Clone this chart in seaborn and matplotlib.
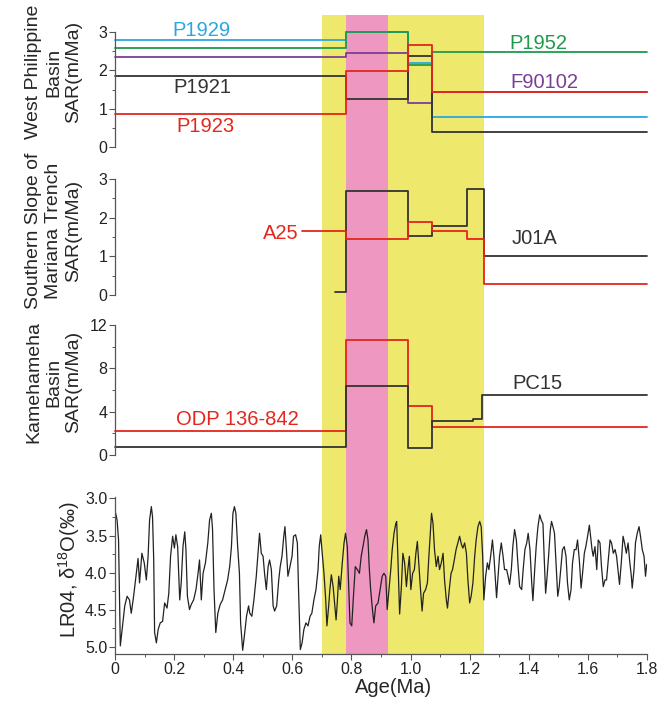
import matplotlib
matplotlib.use("Agg")
import matplotlib.pyplot as plt
import seaborn as sns
from matplotlib.ticker import MultipleLocator, FormatStrFormatter

sns.set_style("ticks")
plt.rcParams['font.family'] = ['Liberation Sans', 'DejaVu Sans']
plt.rcParams['mathtext.fontset'] = 'custom'
plt.rcParams['mathtext.rm'] = 'Liberation Sans'
plt.rcParams['mathtext.it'] = 'Liberation Sans:italic'
plt.rcParams['mathtext.bf'] = 'Liberation Sans:bold'

# ---------------- data ----------------
mpt_band = (0.70, 1.25)
mbt_band = (0.78, 0.925)

# West Philippine Basin (step breakpoints, Ma / SAR m/Ma)
wpb_x = [0.0, 0.78, 0.99, 1.073, 1.8]
p1929 = [2.79, 3.00, 2.18, 0.79, 0.79]
p1952 = [2.59, 3.00, 2.14, 2.47, 2.47]
f90102 = [2.35, 2.45, 1.16, 1.43, 1.43]
p1921 = [1.85, 1.25, 2.38, 0.38, 0.38]
p1923 = [0.87, 1.98, 2.67, 1.43, 1.43]

# Southern slope of Mariana Trench
j01a_x = [0.744, 0.78, 0.99, 1.073, 1.19, 1.247, 1.8]
j01a = [0.09, 2.70, 1.52, 1.78, 2.73, 1.02, 1.02]
a25_x = [0.632, 0.78, 0.99, 1.073, 1.19, 1.247, 1.8]
a25 = [1.65, 1.45, 1.89, 1.66, 1.45, 0.28, 0.28]

# Kamehameha Basin
odp_x = [0.0, 0.78, 0.99, 1.073, 1.8]
odp842 = [2.2, 10.65, 4.55, 2.55, 2.55]
pc15_x = [0.0, 0.78, 0.99, 1.073, 1.212, 1.243, 1.8]
pc15 = [0.74, 6.34, 0.68, 3.10, 3.32, 5.54, 5.54]

# LR04 benthic d18O stack
lr04_age = [
    0.000, 0.007, 0.012, 0.018, 0.024, 0.033, 0.041, 0.049, 0.055, 0.063, 0.071, 0.078, 0.083, 0.091,
    0.099, 0.106, 0.112, 0.117, 0.123, 0.127, 0.131, 0.134, 0.140, 0.146, 0.153, 0.161, 0.168, 0.176,
    0.182, 0.188, 0.195, 0.201, 0.206, 0.212, 0.219, 0.224, 0.230, 0.236, 0.240, 0.245, 0.252, 0.258,
    0.266, 0.274, 0.281, 0.286, 0.292, 0.298, 0.306, 0.314, 0.320, 0.326, 0.330, 0.335, 0.341, 0.348,
    0.356, 0.364, 0.373, 0.381, 0.388, 0.394, 0.399, 0.404, 0.409, 0.415, 0.421, 0.425, 0.432, 0.439,
    0.445, 0.452, 0.456, 0.463, 0.470, 0.478, 0.484, 0.489, 0.495, 0.501, 0.506, 0.512, 0.518, 0.523,
    0.529, 0.535, 0.540, 0.547, 0.554, 0.559, 0.565, 0.571, 0.575, 0.580, 0.585, 0.592, 0.599, 0.604,
    0.611, 0.617, 0.621, 0.627, 0.633, 0.639, 0.646, 0.653, 0.660, 0.666, 0.673, 0.680, 0.687, 0.691,
    0.696, 0.700, 0.707, 0.713, 0.717, 0.723, 0.727, 0.732, 0.738, 0.742, 0.748, 0.752, 0.757, 0.762,
    0.769, 0.775, 0.780, 0.786, 0.791, 0.795, 0.801, 0.806, 0.813, 0.820, 0.827, 0.833, 0.839, 0.845,
    0.851, 0.856, 0.860, 0.865, 0.871, 0.876, 0.882, 0.890, 0.897, 0.904, 0.910, 0.916, 0.921, 0.927,
    0.933, 0.938, 0.944, 0.950, 0.953, 0.957, 0.963, 0.969, 0.974, 0.980, 0.986, 0.991, 0.996, 1.001,
    1.007, 1.013, 1.018, 1.023, 1.027, 1.033, 1.039, 1.044, 1.051, 1.057, 1.062, 1.068, 1.071, 1.076,
    1.081, 1.087, 1.093, 1.098, 1.104, 1.110, 1.115, 1.121, 1.125, 1.131, 1.137, 1.142, 1.148, 1.154,
    1.160, 1.166, 1.172, 1.177, 1.183, 1.189, 1.194, 1.200, 1.205, 1.211, 1.217, 1.222, 1.228, 1.234,
    1.239, 1.244, 1.248, 1.254, 1.260, 1.265, 1.271, 1.277, 1.282, 1.288, 1.291, 1.296, 1.301, 1.307,
    1.313, 1.318, 1.325, 1.330, 1.335, 1.341, 1.346, 1.352, 1.358, 1.363, 1.369, 1.376, 1.381, 1.387,
    1.393, 1.398, 1.404, 1.410, 1.414, 1.420, 1.425, 1.431, 1.437, 1.442, 1.448, 1.452, 1.457, 1.461,
    1.467, 1.473, 1.477, 1.483, 1.487, 1.492, 1.498, 1.503, 1.509, 1.514, 1.520, 1.526, 1.531, 1.537,
    1.543, 1.548, 1.554, 1.560, 1.565, 1.571, 1.577, 1.582, 1.588, 1.593, 1.599, 1.605, 1.609, 1.614,
    1.618, 1.624, 1.630, 1.635, 1.641, 1.646, 1.652, 1.658, 1.663, 1.669, 1.675, 1.680, 1.686, 1.692,
    1.697, 1.703, 1.707, 1.713, 1.719, 1.724, 1.730, 1.736, 1.741, 1.747, 1.750, 1.756, 1.761, 1.767,
    1.773, 1.778, 1.784, 1.790, 1.795, 1.799]
lr04_d18o = [
    3.16, 3.29, 3.56, 4.99, 4.77, 4.45, 4.32, 4.37, 4.55, 4.32, 4.05, 3.81, 4.14, 3.74,
    3.87, 4.10, 3.78, 3.29, 3.11, 3.25, 3.83, 4.81, 4.95, 4.77, 4.68, 4.66, 4.41, 4.48,
    4.28, 3.78, 3.51, 3.67, 3.49, 3.65, 4.37, 4.14, 3.65, 3.45, 3.69, 4.32, 4.50, 4.43,
    4.37, 4.23, 4.01, 3.83, 4.37, 4.01, 3.87, 3.60, 3.29, 3.20, 3.42, 4.23, 4.81, 4.55,
    4.43, 4.37, 4.23, 4.10, 3.92, 3.65, 3.20, 3.11, 3.20, 3.65, 4.01, 4.68, 5.05, 4.81,
    4.59, 4.45, 4.55, 4.59, 4.37, 4.05, 3.74, 3.47, 3.74, 3.78, 4.01, 4.23, 3.92, 3.83,
    3.96, 4.45, 4.52, 4.45, 4.10, 3.92, 3.78, 3.51, 3.38, 3.69, 4.05, 3.92, 3.78, 3.51,
    3.49, 3.60, 4.23, 5.04, 4.95, 4.77, 4.68, 4.72, 4.59, 4.55, 4.37, 4.23, 3.96, 3.65,
    3.49, 3.69, 4.01, 4.37, 4.72, 4.45, 4.23, 4.03, 4.19, 4.37, 4.64, 4.41, 4.05, 4.23,
    3.87, 3.60, 3.47, 3.65, 4.23, 4.68, 4.72, 4.37, 3.92, 3.96, 4.01, 3.78, 3.65, 3.51,
    3.42, 3.56, 3.92, 4.23, 4.50, 4.68, 4.45, 4.41, 4.23, 4.05, 4.01, 4.05, 4.50, 4.23,
    3.96, 3.69, 3.47, 3.34, 3.31, 3.78, 4.56, 4.19, 3.74, 3.87, 4.19, 3.96, 3.78, 4.23,
    4.01, 3.96, 3.74, 3.58, 3.83, 4.19, 4.52, 4.28, 4.23, 4.14, 3.78, 3.38, 3.20, 3.34,
    3.69, 3.92, 3.78, 3.96, 3.87, 3.74, 4.10, 4.37, 4.48, 4.23, 4.01, 3.96, 3.83, 3.69,
    3.60, 3.51, 3.62, 3.67, 3.60, 3.74, 4.10, 4.41, 4.32, 4.14, 3.78, 3.56, 3.38, 3.31,
    3.38, 3.78, 4.37, 4.05, 3.87, 3.96, 3.78, 3.56, 3.78, 4.14, 4.34, 4.05, 3.78, 3.60,
    3.78, 3.96, 3.96, 4.05, 4.16, 3.96, 3.65, 3.42, 3.56, 3.87, 4.19, 4.23, 3.96, 3.69,
    3.60, 3.47, 3.69, 4.14, 4.38, 3.96, 3.65, 3.38, 3.22, 3.29, 3.34, 3.78, 4.28, 4.10,
    3.78, 3.42, 3.31, 3.40, 3.47, 3.87, 4.32, 4.19, 3.92, 3.69, 3.65, 3.78, 4.14, 4.37,
    4.23, 3.87, 3.69, 3.69, 3.56, 3.83, 4.21, 4.01, 3.74, 3.65, 3.51, 3.36, 3.51, 3.69,
    3.78, 3.65, 3.96, 3.56, 3.60, 3.92, 4.19, 4.10, 4.10, 3.83, 3.56, 3.60, 3.74, 3.69,
    3.78, 4.01, 4.16, 3.87, 3.51, 3.60, 3.74, 3.60, 3.83, 4.05, 4.21, 3.96, 3.60, 3.47,
    3.38, 3.51, 3.69, 3.78, 4.05, 3.89]

xticks = [0, 0.2, 0.4, 0.6, 0.8, 1.0, 1.2, 1.4, 1.6, 1.8]
xtick_labels = ['0', '0.2', '0.4', '0.6', '0.8', '1.0', '1.2', '1.4', '1.6', '1.8']

# ---------------- style ----------------
CYAN = '#2aa7df'
GREEN = '#1f9a4c'
PURPLE = '#7b3e97'
RED = '#e4261d'
BLACK = '#333333'
YELLOW = '#eee86c'
PINK = '#ee98c1'
SPINE = '#555555'

FIG_W, FIG_H = 659, 703
fig = plt.figure(figsize=(FIG_W / 100, FIG_H / 100), dpi=100)
L = 115 / FIG_W
W = 532 / FIG_W


def rect(top, bot):
    return [L, 1 - bot / FIG_H, W, (bot - top) / FIG_H]


ax_bg = fig.add_axes(rect(15, 654))
ax_bg.set_xlim(0, 1.8)
ax_bg.axis('off')
ax_bg.axvspan(*mpt_band, color=YELLOW, lw=0)
ax_bg.axvspan(*mbt_band, color=PINK, lw=0)


def style(ax, ylim, major, minor, bottom=False):
    ax.set_facecolor('none')
    ax.set_xlim(0, 1.8)
    ax.set_ylim(*ylim)
    for s in ['top', 'right']:
        ax.spines[s].set_visible(False)
    ax.spines['left'].set_color(SPINE)
    ax.spines['left'].set_linewidth(0.9)
    ax.yaxis.set_major_locator(MultipleLocator(major))
    ax.yaxis.set_minor_locator(MultipleLocator(minor))
    ax.tick_params(axis='y', which='major', direction='out', length=4, width=0.8,
                   color=SPINE, labelsize=11.5, pad=1.5, left=True, labelcolor='#222222')
    ax.tick_params(axis='y', which='minor', direction='out', length=2.5, width=0.7,
                   color=SPINE, left=True)
    if bottom:
        ax.spines['bottom'].set_color(SPINE)
        ax.spines['bottom'].set_linewidth(0.9)
        ax.set_xticks(xticks, xtick_labels)
        ax.xaxis.set_minor_locator(MultipleLocator(0.1))
        ax.tick_params(axis='x', which='major', direction='out', length=4, width=0.8,
                       color=SPINE, labelsize=11.5, pad=2, bottom=True, labelcolor='#222222')
        ax.tick_params(axis='x', which='minor', direction='out', length=2.5, width=0.7,
                       color=SPINE, bottom=True)
    else:
        ax.spines['bottom'].set_visible(False)
        ax.set_xticks([])


def step(ax, x, y, color, lw=1.3):
    sns.lineplot(x=x, y=y, ax=ax, color=color, lw=lw, drawstyle='steps-post',
                 estimator=None, sort=False, legend=False, clip_on=False)


TXT = 14.5
LAB = 14
LS = 1.22
LX = -0.062

# Panel 1: West Philippine Basin
ax1 = fig.add_axes(rect(32, 147))
step(ax1, wpb_x, p1929, CYAN)
step(ax1, wpb_x, p1952, GREEN)
step(ax1, wpb_x, f90102, PURPLE)
step(ax1, wpb_x, p1921, BLACK)
step(ax1, wpb_x, p1923, RED)
style(ax1, (0, 3), 1, 0.5)
ax1.text(0.195, 2.90, 'P1929', color=CYAN, fontsize=TXT)
ax1.text(0.196, 1.41, 'P1921', color=BLACK, fontsize=TXT)
ax1.text(0.206, 0.40, 'P1923', color=RED, fontsize=TXT)
ax1.text(1.333, 2.56, 'P1952', color=GREEN, fontsize=TXT)
ax1.text(1.339, 1.53, 'F90102', color=PURPLE, fontsize=TXT)
ax1.set_ylabel('West Philippine\nBasin\nSAR(m/Ma)', fontsize=LAB, linespacing=LS)
ax1.yaxis.set_label_coords(LX, 0.65)

# Panel 2: Southern slope of Mariana Trench
ax2 = fig.add_axes(rect(179, 295))
step(ax2, j01a_x, j01a, BLACK)
step(ax2, a25_x, a25, RED)
style(ax2, (0, 3), 1, 0.5)
ax2.text(0.622, 1.45, 'A25', color=RED, fontsize=TXT, ha='right')
ax2.text(1.343, 1.31, 'J01A', color=BLACK, fontsize=TXT)
ax2.set_ylabel('Southern Slope of\nMariana Trench\nSAR(m/Ma)', fontsize=LAB, linespacing=LS)
ax2.yaxis.set_label_coords(LX, 0.55)

# Panel 3: Kamehameha Basin
ax3 = fig.add_axes(rect(325, 455))
step(ax3, odp_x, odp842, RED)
step(ax3, pc15_x, pc15, BLACK)
style(ax3, (0, 12), 4, 2)
ax3.text(0.205, 2.77, 'ODP 136-842', color=RED, fontsize=TXT)
ax3.text(1.345, 6.1, 'PC15', color=BLACK, fontsize=TXT)
ax3.set_ylabel('Kamehameha\nBasin\nSAR(m/Ma)', fontsize=LAB, linespacing=LS)
ax3.yaxis.set_label_coords(LX, 0.56)

# Panel 4: LR04
ax4 = fig.add_axes(rect(497, 654))
sns.lineplot(x=lr04_age, y=lr04_d18o, ax=ax4, color='#222222', lw=0.9,
             estimator=None, sort=False, legend=False)
style(ax4, (5.1, 2.98), 0.5, 0.25, bottom=True)
ax4.yaxis.set_major_formatter(FormatStrFormatter('%.1f'))
ax4.set_ylabel('LR04, δ$^{18}$O(‰)', fontsize=LAB + 0.5)
ax4.yaxis.set_label_coords(LX, 0.54)
ax4.set_xlabel('Age(Ma)', fontsize=LAB + 0.5)
ax4.xaxis.set_label_coords(0.523, -0.15)

fig.savefig('out.png', dpi=100)
